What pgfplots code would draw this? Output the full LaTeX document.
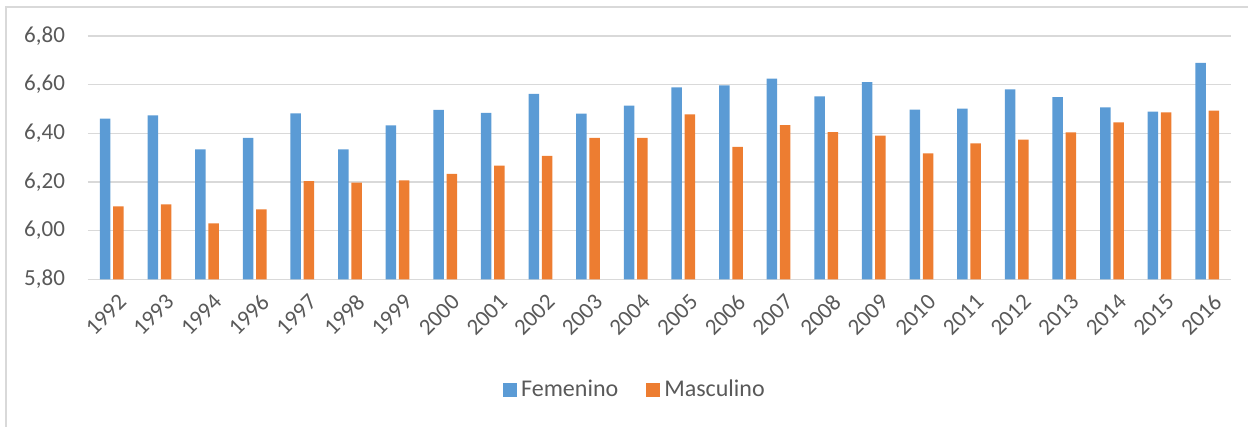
\documentclass[border=0pt]{standalone}
\usepackage{fontspec}
\setmainfont{Carlito}
\usepackage{pgfplots}
\pgfplotsset{compat=1.18}
\definecolor{fem}{HTML}{5B9BD5}
\definecolor{mas}{HTML}{ED7D31}
\definecolor{gridc}{HTML}{D9D9D9}
\definecolor{txt}{HTML}{595959}
\begin{document}
\begin{tikzpicture}
\useasboundingbox (-44pt,-73.85pt) rectangle (580pt,139.65pt);
\draw[gridc, line width=0.9pt] (-41pt,-75pt) -- (-41pt,136.15pt) -- (582pt,136.15pt);
\begin{axis}[
  at={(0,0)}, anchor=south west,
  scale only axis, width=571.5pt, height=121.65pt,
  ymin=5.8, ymax=6.8, ytick={5.8,6.0,...,6.81},
  xmin=-0.5, xmax=23.5,
  xtick={0,...,23},
  xticklabels={1992,1993,1994,1996,1997,1998,1999,2000,2001,2002,2003,2004,2005,2006,2007,2008,2009,2010,2011,2012,2013,2014,2015,2016},
  /pgf/number format/assume math mode=true,
  yticklabel={\pgfmathprintnumber[fixed,fixed zerofill,precision=2,use comma]{\tick}},
  ymajorgrids, major grid style={gridc, line width=0.75pt},
  axis x line*=bottom, axis y line*=left,
  y axis line style={draw=none},
  x axis line style={gridc, line width=0.75pt, -},
  major tick length=0pt,
  tick label style={font=\fontsize{11.5}{13}\selectfont, text=txt},
  yticklabel style={anchor=east, xshift=-8pt},
  xticklabel style={rotate=45, anchor=east, xshift=0.5pt, yshift=-10.5pt},
  ybar, bar width=0.22,
  legend style={at={(0.4794,-0.455)}, anchor=center, draw=none, font=\fontsize{12}{14}\selectfont, text=txt, legend columns=2, /tikz/every even column/.append style={column sep=12pt}},
  legend image code/.code={\fill[#1] (0pt,-3.5pt) rectangle (7pt,3.5pt);},
]
\addplot[fill=fem, draw=none, bar shift=-0.14] coordinates {
(0,6.46) (1,6.474) (2,6.334) (3,6.381) (4,6.482) (5,6.334) (6,6.433) (7,6.496) (8,6.484) (9,6.562) (10,6.481) (11,6.514) (12,6.589) (13,6.597) (14,6.625) (15,6.552) (16,6.610) (17,6.497) (18,6.501) (19,6.581) (20,6.549) (21,6.507) (22,6.489) (23,6.690)};
\addplot[fill=mas, draw=none, bar shift=0.14] coordinates {
(0,6.100) (1,6.108) (2,6.030) (3,6.087) (4,6.204) (5,6.197) (6,6.207) (7,6.233) (8,6.267) (9,6.307) (10,6.381) (11,6.381) (12,6.478) (13,6.344) (14,6.434) (15,6.405) (16,6.390) (17,6.318) (18,6.359) (19,6.374) (20,6.404) (21,6.445) (22,6.486) (23,6.493)};
\legend{Femenino,Masculino}
\end{axis}
\end{tikzpicture}
\end{document}
